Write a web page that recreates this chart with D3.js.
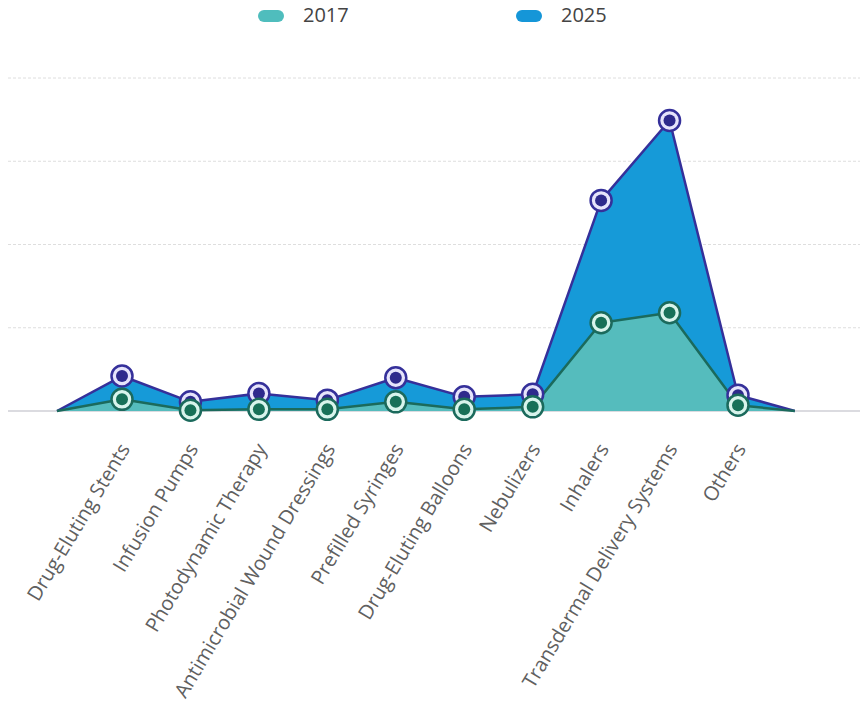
<!DOCTYPE html>
<html>
<head>
<meta charset="utf-8">
<script src="https://cdn.jsdelivr.net/npm/d3@7"></script>
<style>
	body { margin: 0; background: #fff; }
	text { font-family: 'Open Sans', sans-serif; }
</style>
</head>
<body>
<div class="container"></div>
<script>
const width = 864, height = 711;

const categories = ['Drug-Eluting Stents', 'Infusion Pumps', 'Photodynamic Therapy',
	'Antimicrobial Wound Dressings', 'Prefilled Syringes', 'Drug-Eluting Balloons',
	'Nebulizers', 'Inhalers', 'Transdermal Delivery Systems', 'Others'];
const values2017 = [1.4, 0.1, 0.2, 0.2, 1.1, 0.2, 0.5, 10.6, 11.8, 0.7];
const values2025 = [4.2, 1.1, 2.1, 1.3, 4.0, 1.7, 2.0, 25.3, 34.9, 1.9];
const gridTicks = [0, 10, 20, 30, 40];

const series = [
	{name: '2025', values: values2025, fill: '#169ad8', line: '#35309a', dot: '#2e2a8c', ring: '#e6e4fb', legend: '#1596d8'},
	{name: '2017', values: values2017, fill: '#55bcbd', line: '#1b6a5c', dot: '#177058', ring: '#d8f4ec', legend: '#4fbdbd'},
];

const x = d3.scalePoint().domain(categories).range([122, 738]);
const y = d3.scaleLinear().domain([0, 40]).range([411, 78]);

// zero points before the first and after the last category
function points(vals) {
	let pts = vals.map((v, i) => ({x: x(categories[i]), v: v}));
	let st = x.step();
	pts.unshift({x: x(categories[0]) - 0.95 * st, v: 0});
	pts.push({x: x(categories[categories.length - 1]) + 0.83 * st, v: 0});
	return pts;
}

const svg = d3.select('.container').append('svg')
	.attr('width', width)
	.attr('height', height)
	.attr('viewBox', [0, 0, width, height]);

// grid
svg.append('g')
	.selectAll('line')
	.data(gridTicks)
	.join('line')
	.attr('x1', 8)
	.attr('x2', 860)
	.attr('y1', d => y(d))
	.attr('y2', d => y(d))
	.attr('stroke', d => d === 0 ? '#cfcfd6' : '#dedede')
	.attr('stroke-width', d => d === 0 ? 1.5 : 1)
	.attr('stroke-dasharray', d => d === 0 ? null : '3,2');

const area = d3.area().x(d => d.x).y0(y(0)).y1(d => y(d.v));
const line = d3.line().x(d => d.x).y(d => y(d.v));

for (const s of series) {
	const pts = points(s.values);
	svg.append('path')
		.attr('d', area(pts))
		.attr('fill', s.fill);
	svg.append('path')
		.attr('d', line(pts))
		.attr('fill', 'none')
		.attr('stroke', s.line)
		.attr('stroke-width', 2.5)
		.attr('stroke-linejoin', 'round');
}

for (const s of series) {
	let g = svg.append('g')
		.selectAll('g')
		.data(s.values)
		.join('g')
		.attr('transform', (d, i) => 'translate(' + x(categories[i]) + ',' + y(d) + ')');
	g.append('circle')
		.attr('r', 10.5)
		.attr('fill', s.ring)
		.attr('stroke', s.line)
		.attr('stroke-width', 2.5);
	g.append('circle')
		.attr('r', 6)
		.attr('fill', s.dot);
}

// x labels
svg.append('g')
	.selectAll('text')
	.data(categories)
	.join('text')
	.attr('transform', d => 'translate(' + (x(d) + 4) + ',' + 446 + ') rotate(-59)')
	.attr('text-anchor', 'end')
	.attr('dominant-baseline', 'middle')
	.attr('font-size', 20)
	.attr('fill', '#606060')
	.text(d => d);

// legend
const legendItems = [
	{name: '2017', color: series[1].legend, x: 258},
	{name: '2025', color: series[0].legend, x: 516},
];
let lg = svg.append('g')
	.selectAll('g')
	.data(legendItems)
	.join('g')
	.attr('transform', d => 'translate(' + d.x + ',16)');
lg.append('rect')
	.attr('x', 0)
	.attr('y', -6)
	.attr('width', 26)
	.attr('height', 12)
	.attr('rx', 6)
	.attr('fill', d => d.color);
lg.append('text')
	.attr('x', 45)
	.attr('y', 1)
	.attr('dominant-baseline', 'middle')
	.attr('font-size', 20)
	.attr('fill', '#444')
	.text(d => d.name);
</script>
</body>
</html>
